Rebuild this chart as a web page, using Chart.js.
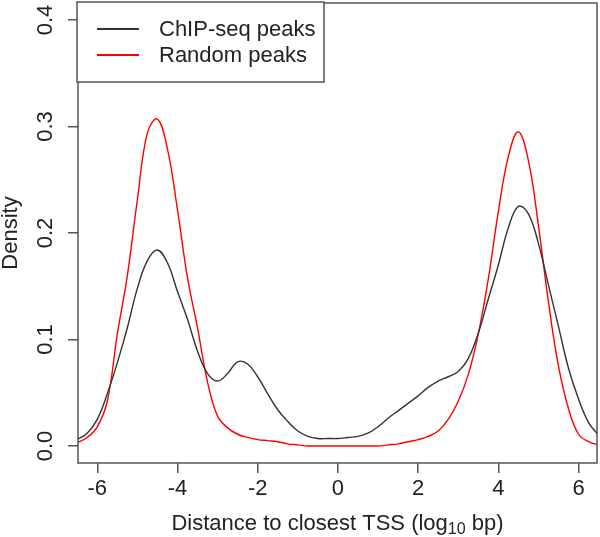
<!DOCTYPE html>
<html>
<head>
<meta charset="utf-8">
<script src="https://cdn.jsdelivr.net/npm/chart.js@4"></script>
<style>
  html, body { margin: 0; padding: 0; background: #fff; }
  #wrap { width: 600px; height: 537px; }
</style>
</head>
<body>
<div id="wrap"><canvas id="chart"></canvas></div>
<script>
// log10 distance grid (bp) and the two density curves
var xGrid = [-6.5, -6.25, -6, -5.75, -5.5, -5.25, -5, -4.75, -4.5, -4.25, -4, -3.75, -3.5, -3.25, -3, -2.75, -2.5, -2.25, -2, -1.75, -1.5, -1.25, -1, -0.75, -0.5, -0.25, 0, 0.25, 0.5, 0.75, 1, 1.25, 1.5, 1.75, 2, 2.25, 2.5, 2.75, 3, 3.25, 3.5, 3.75, 4, 4.25, 4.5, 4.75, 5, 5.25, 5.5, 5.75, 6, 6.25, 6.5];
var chipPeaks = [0.006, 0.012, 0.025, 0.049, 0.078, 0.111, 0.148, 0.174, 0.184, 0.172, 0.145, 0.119, 0.089, 0.068, 0.061, 0.068, 0.079, 0.077, 0.065, 0.049, 0.034, 0.023, 0.014, 0.009, 0.007, 0.007, 0.007, 0.008, 0.009, 0.012, 0.018, 0.026, 0.033, 0.040, 0.047, 0.055, 0.061, 0.065, 0.070, 0.082, 0.106, 0.138, 0.170, 0.205, 0.225, 0.218, 0.190, 0.151, 0.112, 0.073, 0.044, 0.022, 0.010];
var randomPeaks = [0.003, 0.008, 0.018, 0.042, 0.105, 0.160, 0.231, 0.294, 0.307, 0.279, 0.222, 0.158, 0.111, 0.060, 0.028, 0.017, 0.011, 0.008, 0.006, 0.005, 0.004, 0.002, 0.001, 0, 0, 0, 0, 0, 0, 0, 0, 0.001, 0.002, 0.004, 0.006, 0.009, 0.014, 0.025, 0.042, 0.067, 0.105, 0.157, 0.220, 0.272, 0.295, 0.268, 0.207, 0.135, 0.075, 0.035, 0.011, 0.004, 0.001];

var xTicks = [-6, -4, -2, 0, 2, 4, 6];
var yTicks = [0, 0.1, 0.2, 0.3, 0.4];
var seriesNames = ['ChIP-seq peaks', 'Random peaks'];
var seriesColors = ['#333333', '#ff0000'];

var FONT = "'Liberation Sans', Arial, Helvetica, sans-serif";
var SIZE = 22;
var INK = '#222';
var FRAME = '#555';

function pairs(ys) {
  return xGrid.map(function (x, i) { return { x: x, y: ys[i] }; });
}

var extras = {
  id: 'extras',
  afterDraw: function (chart) {
    var ctx = chart.ctx;
    var a = chart.chartArea;
    var ys = chart.scales.y;
    ctx.save();

    // plot frame
    ctx.strokeStyle = FRAME;
    ctx.lineWidth = 1.5;
    ctx.strokeRect(a.left, a.top, a.right - a.left, a.bottom - a.top);

    // y tick labels, rotated like R's default
    ctx.fillStyle = INK;
    ctx.font = SIZE + 'px ' + FONT;
    ctx.textAlign = 'center';
    ctx.textBaseline = 'middle';
    yTicks.forEach(function (v) {
      ctx.save();
      ctx.translate(46, ys.getPixelForValue(v));
      ctx.rotate(-Math.PI / 2);
      ctx.fillText(v.toFixed(1), 0, 0);
      ctx.restore();
    });

    // y title
    ctx.save();
    ctx.translate(11, (a.top + a.bottom) / 2);
    ctx.rotate(-Math.PI / 2);
    ctx.fillText('Density', 0, 0);
    ctx.restore();

    // x title with subscript
    var p1 = 'Distance to closest TSS (log', sub = '10', p2 = ' bp)';
    ctx.font = SIZE + 'px ' + FONT;
    var w1 = ctx.measureText(p1).width, w3 = ctx.measureText(p2).width;
    ctx.font = '16px ' + FONT;
    var w2 = ctx.measureText(sub).width;
    var x0 = (a.left + a.right) / 2 - (w1 + w2 + w3) / 2;
    var yb = 530;
    ctx.textAlign = 'left';
    ctx.textBaseline = 'alphabetic';
    ctx.font = SIZE + 'px ' + FONT;
    ctx.fillText(p1, x0, yb);
    ctx.font = '16px ' + FONT;
    ctx.fillText(sub, x0 + w1, yb + 4);
    ctx.font = SIZE + 'px ' + FONT;
    ctx.fillText(p2, x0 + w1 + w2, yb);

    // legend box
    ctx.fillStyle = '#fff';
    ctx.fillRect(77, 2, 247, 80);
    ctx.strokeStyle = FRAME;
    ctx.lineWidth = 1.5;
    ctx.strokeRect(77, 2, 247, 80);
    ctx.textBaseline = 'middle';
    chart.data.datasets.forEach(function (ds, i) {
      var y = 29 + i * 26;
      ctx.strokeStyle = ds.borderColor;
      ctx.lineWidth = 2.2;
      ctx.beginPath();
      ctx.moveTo(97, y);
      ctx.lineTo(139, y);
      ctx.stroke();
      ctx.fillStyle = INK;
      ctx.font = SIZE + 'px ' + FONT;
      ctx.fillText(ds.label, 159, y + 1);
    });
    ctx.restore();
  }
};

new Chart(document.getElementById('chart'), {
  type: 'line',
  data: {
    datasets: [
      { label: seriesNames[0], data: pairs(chipPeaks), borderColor: seriesColors[0], borderWidth: 1.4, pointRadius: 0, fill: false, tension: 0.4 },
      { label: seriesNames[1], data: pairs(randomPeaks), borderColor: seriesColors[1], borderWidth: 1.4, pointRadius: 0, fill: false, tension: 0.4 }
    ]
  },
  options: {
    responsive: true,
    maintainAspectRatio: false,
    animation: false,
    events: [],
    layout: { padding: { top: 3, right: 3, left: 0, bottom: 0 } },
    plugins: { legend: { display: false }, tooltip: { enabled: false } },
    scales: {
      x: {
        type: 'linear',
        min: -6.48,
        max: 6.46,
        afterBuildTicks: function (s) { s.ticks = xTicks.map(function (v) { return { value: v }; }); },
        afterFit: function (s) { s.height = 74; },
        grid: { drawOnChartArea: false, drawTicks: true, tickLength: 10, color: FRAME, lineWidth: 1.5 },
        border: { display: false },
        ticks: { color: INK, font: { family: FONT, size: SIZE }, padding: 3, maxRotation: 0 }
      },
      y: {
        type: 'linear',
        min: -0.016,
        max: 0.416,
        afterBuildTicks: function (s) { s.ticks = yTicks.map(function (v) { return { value: v }; }); },
        afterFit: function (s) { s.width = 78; },
        grid: { drawOnChartArea: false, drawTicks: true, tickLength: 10, color: FRAME, lineWidth: 1.5 },
        border: { display: false },
        ticks: { display: false }
      }
    }
  },
  plugins: [extras]
});
</script>
</body>
</html>
